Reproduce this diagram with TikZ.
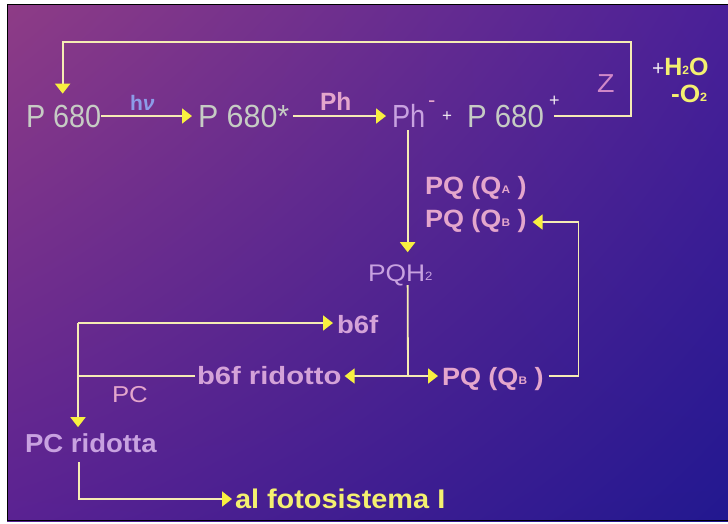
\documentclass[tikz,border=0pt]{standalone}
\usepackage{fontspec}
\usepackage{graphicx}
\setmainfont{Liberation Sans}
\usetikzlibrary{arrows.meta,calc,shadings}

\definecolor{bgul}{HTML}{8E3C86}
\definecolor{bgur}{HTML}{4A2098}
\definecolor{bgll}{HTML}{5A2292}
\definecolor{bglr}{HTML}{221890}
\definecolor{wirecol}{HTML}{F6ECB4}
\definecolor{tipcol}{HTML}{F8F040}
\definecolor{greytxt}{HTML}{C6CCC4}
\definecolor{bluetxt}{HTML}{8C9CE8}
\definecolor{pinktxt}{HTML}{E4A6CC}
\definecolor{lavtxt}{HTML}{C8A2E0}
\definecolor{ztxt}{HTML}{D088C8}
\definecolor{whitetxt}{HTML}{F2ECF2}
\definecolor{yeltxt}{HTML}{F4F070}
\definecolor{b6ftxt}{HTML}{D4A2D8}

% size, horizontal scale, text
\newcommand\tx[3]{{\fontsize{#1}{#1}\selectfont\scalebox{#2}[1]{#3}}}
\newcommand\lowsub[2]{\raisebox{0.5pt}{\fontsize{#1}{#1}\selectfont #2}}

\tikzset{
  lbl/.style={inner sep=0pt, outer sep=0pt, anchor=base west},
  wire/.style={draw=wirecol, line width=1.8pt},
  arr/.style={wire, -{Triangle[width=15pt,length=10pt,color=tipcol]}},
}

\begin{document}
\begin{tikzpicture}[x=1pt,y=-1pt]
\useasboundingbox (0,0) rectangle (728,523);
\fill[white] (0,0) rectangle (728,523);
\shade[upper left=bgul, upper right=bgur, lower left=bgll, lower right=bglr]
  (7,4) rectangle (728,521);
\draw[black, line width=1.2pt] (728,4.5) -- (7.5,4.5) -- (7.5,520.5) -- (728,520.5);

% top row
\node[lbl, text=greytxt] (p680)  at (26,127)  {\tx{32}{0.9}{P 680}};
\node[lbl, text=greytxt] (p680s) at (198,127) {\tx{32}{0.95}{P 680*}};
\node[lbl, text=lavtxt]  (ph)    at (392,127) {\tx{32}{0.85}{Ph}};
\node[lbl, text=pinktxt] (phsup) at (428,107) {\tx{22}{1}{-}};
\node[lbl, text=whitetxt] (plus) at (442,121) {\tx{17}{1}{+}};
\node[lbl, text=greytxt] (p680p) at (467,127) {\tx{32}{0.92}{P 680}};
\node[lbl, text=whitetxt] (psup) at (549,106) {\tx{18}{1}{+}};

\node[lbl, text=bluetxt] (hv)  at (130,110) {\tx{21}{1}{\bfseries h\itshape ν}};
\node[lbl, text=pinktxt] (phl) at (320,110) {\bfseries\tx{25}{0.98}{Ph}};
\node[lbl, text=ztxt]    (z)   at (597,92)  {\tx{26}{1.1}{Z}};
\node[lbl] (h2o) at (652,75)
  {\textcolor{whitetxt}{\tx{21}{1}{+}}\textcolor{yeltxt}{\bfseries\tx{25}{1.0}{H\lowsub{12}{2}O}}};
\node[lbl, text=yeltxt] (o2) at (671,102) {\bfseries\tx{25}{1.05}{-O\lowsub{12}{2}}};

% plastoquinone
\node[lbl, text=pinktxt] (pqa) at (425,194) {\bfseries\tx{25}{1.08}{PQ (Q\lowsub{11}{A} )}};
\node[lbl, text=pinktxt] (pqb) at (425,227) {\bfseries\tx{25}{1.08}{PQ (Q\lowsub{11}{B} )}};
\node[lbl, text=lavtxt]  (pqh) at (368,281) {\tx{24}{1.1}{PQH\lowsub{12}{2}}};

% lower part
\node[lbl, text=b6ftxt]  (b6f)  at (337,333) {\bfseries\tx{25}{1.1}{b6f}};
\node[lbl, text=b6ftxt]  (rid)  at (197,384) {\bfseries\tx{25}{1.17}{b6f ridotto}};
\node[lbl, text=pinktxt] (pqb2) at (442,385) {\bfseries\tx{25}{1.08}{PQ (Q\lowsub{11}{B} )}};
\node[lbl, text=pinktxt] (pc)   at (112,402) {\tx{23}{1.12}{PC}};
\node[lbl, text=lavtxt]  (pcr)  at (25,452)  {\bfseries\tx{26}{1.06}{PC ridotta}};
\node[lbl, text=yeltxt]  (fs)   at (235,508) {\bfseries\tx{27}{1.07}{al fotosistema I}};

\coordinate (zc)  at (631,42);
\coordinate (jn)  at (408,376);
\coordinate (pcx) at (78,323);

% connectors, top row
\draw[arr] ($(p680.base east)+(0,-11)$) -- ($(p680s.base west)+(-6,-11)$);
\draw[arr] ($(p680s.base east)+(4,-11)$) -- ($(ph.base west)+(-6,-11)$);
\draw[arr] ($(p680p.base east)+(10,-11)$) -| (zc) -| ($(p680.north)+(-1,-11)$);

% down to PQH2 and the two branches
\draw[arr] ($(ph.base)+(-1,3)$) -- ($(ph.base |- pqh.north)+(-1,-12)$);
\draw[wire] ($(ph.base |- pqh.base)+(-1,4)$) -- (jn);
\draw[arr] (jn) -- ($(rid.base east)+(3,-8)$);
\draw[arr] (jn) -- ($(pqb2.base west)+(-4,-9)$);
\draw[arr] ($(pqb2.base east)+(5,-9)$) -| ($(pqb.base east)+(52,-5)$) -- ($(pqb.base east)+(6,-5)$);

% plastocyanin branch
\draw[wire] ($(rid.base west)+(-2,-8)$) -- ($(rid.base west -| pcx)+(0,-8)$);
\draw[arr] (pcx) -- ($(b6f.base west)+(-4,-10)$);
\draw[arr] (pcx) -- ($(pcx |- pcr.north)+(0,-6)$);
\draw[arr] ($(pcx |- pcr.base)+(1,10)$) |- ($(fs.base west)+(-3,-9)$);
\end{tikzpicture}
\end{document}
